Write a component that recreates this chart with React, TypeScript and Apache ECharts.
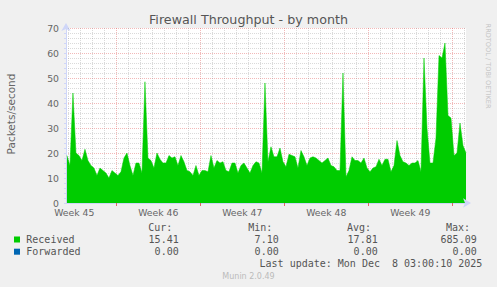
import React, { useEffect, useRef } from "react";
import * as echarts from "echarts";

// ---- data ----
const START_DAY = 0.08;
const STEP_DAYS = 0.25;
const AXIS_MAX_DAYS = 33.33;

const received = [
  19, 15, 44, 20, 19, 17, 21.5, 17, 15, 14,
  11, 14, 13, 12, 10, 13, 12, 11, 12.5, 18,
  20, 15, 11, 16, 16, 12, 48.5, 18, 17, 14,
  20, 17.5, 16, 16, 19, 18, 18.5, 15, 19, 16.5,
  13, 12.5, 11, 15, 11, 13, 13, 12.5, 19, 14,
  17, 16, 16.5, 13, 12.5, 16, 16, 12, 15, 16,
  14, 12, 15, 16.5, 16, 12, 48, 16.5, 22.5, 18.5,
  18.5, 22, 16.5, 14.5, 19.5, 19, 18.5, 14, 21, 18.5,
  15, 18, 18.5, 18, 17, 16, 17, 18, 15, 14.5,
  13, 13, 52, 10.5, 13, 18.5, 17, 17, 16, 18,
  14, 12.5, 14, 14.5, 17.5, 15, 17.5, 17.5, 12.5, 15,
  25, 19, 16.5, 16, 15, 16, 16, 17, 12.5, 58,
  30, 16, 16, 26, 59, 58, 64, 35, 34, 19,
  20, 32, 23, 20,
];

const weekLabels = ["Week 45", "Week 46", "Week 47", "Week 48", "Week 49"];
const weekStarts = [4.19, 11.19, 18.19, 25.19, 32.19];
const FIRST_MIDNIGHT = 0.19;

const title = "Firewall Throughput - by month";
const yAxisTitle = "Packets/second";
const sideText = "RRDTOOL / TOBI OETIKER";
const legendNames = ["Received", "Forwarded"];
const legendColors = ["#00cc00", "#0066b3"];
const statHeaders = ["Cur:", "Min:", "Avg:", "Max:"];
const receivedStats = ["15.41", "7.10", "17.81", "685.09"];
const forwardedStats = ["0.00", "0.00", "0.00", "0.00"];
const lastUpdate = "Last update: Mon Dec  8 03:00:10 2025";
const version = "Munin 2.0.49";

export default function App() {
  const ref = useRef<HTMLDivElement>(null);

  useEffect(() => {
    const chart = echarts.init(ref.current!, null, { renderer: "svg" });

    const data = received.map((v, i) => [START_DAY + i * STEP_DAYS, v]);
    const weekCenters = weekStarts.map((s) => s - 3.5);

    const dailyLines: number[] = [];
    for (let d = FIRST_MIDNIGHT; d < AXIS_MAX_DAYS; d += 1) {
      const dd = Math.round(d * 100) / 100;
      if (!weekStarts.some((w) => Math.abs(w - dd) < 0.01)) dailyLines.push(dd);
    }

    const minorGrid = "rgba(143,143,143,0.33)";
    const majorGrid = "rgba(222,79,79,0.4)";
    const axisColor = "#CFD6F8";
    const fontColor = "#666666";
    const sans = "DejaVu Sans";
    const mono = "DejaVu Sans Mono";

    const headerRight = [172.3, 272.3, 371, 470];
    const valueRight = [178.7, 278.7, 377.7, 476.7];
    const rowY = [239.5, 251.7];
    const rowStats = [receivedStats, forwardedStats];

    const txt = (text: string, x: number, y: number, size: number, family: string, color: string, align: string, extra: any = {}) => ({
      type: "text",
      x,
      y,
      silent: true,
      ...extra,
      style: {
        text,
        fontSize: size,
        fontFamily: family,
        fill: color,
        textAlign: align,
        align,
        textVerticalAlign: "middle",
        verticalAlign: "middle",
      },
    });

    const graphics: any[] = [
      txt(title, 248.5, 19, 12.7, sans, "#555555", "center"),
      txt(yAxisTitle, 10.5, 114, 10.5, sans, fontColor, "center", { rotation: Math.PI / 2 }),
      txt(sideText, 487.5, 66, 6.6, sans, "#c4c4c4", "center", { rotation: -Math.PI / 2 }),
    ];
    statHeaders.forEach((h, i) => graphics.push(txt(h, headerRight[i], 227.5, 10, mono, "#555555", "right")));
    legendNames.forEach((n, r) => {
      graphics.push({
        type: "rect",
        silent: true,
        shape: { x: 14, y: rowY[r] - 3, width: 6, height: 6 },
        style: { fill: legendColors[r] },
      });
      graphics.push(txt(n, 26.3, rowY[r], 10, mono, "#555555", "left"));
      rowStats[r].forEach((s, i) => graphics.push(txt(s, valueRight[i], rowY[r], 10, mono, "#555555", "right")));
    });
    graphics.push(txt(lastUpdate, 482.3, 263.5, 10, mono, "#555555", "right"));
    graphics.push(txt(version, 248.5, 276.3, 8, sans, "#bbbbbb", "center"));

    const option: any = {
      animation: false,
      backgroundColor: "#f0f0f0",
      grid: {
        left: 66,
        top: 28,
        right: 31,
        bottom: 84,
        show: true,
        backgroundColor: "#ffffff",
        borderWidth: 0,
        containLabel: false,
      },
      xAxis: {
        type: "value",
        min: 0,
        max: AXIS_MAX_DAYS,
        z: 3,
        axisLine: {
          show: true,
          lineStyle: { color: axisColor, width: 1 },
          symbol: ["none", "arrow"],
          symbolSize: [7, 8],
          symbolOffset: [0, 5],
        },
        axisTick: {
          show: true,
          customValues: weekStarts,
          length: 3,
          inside: false,
          lineStyle: { color: "rgba(222,79,79,0.85)" },
        },
        axisLabel: {
          customValues: weekCenters,
          formatter: (v: number) => {
            const idx = weekCenters.findIndex((c) => Math.abs(c - v) < 0.01);
            return idx >= 0 ? weekLabels[idx] : "";
          },
          color: fontColor,
          fontSize: 9.3,
          fontFamily: sans,
          margin: 5,
        },
        splitLine: { show: false },
      },
      yAxis: {
        type: "value",
        min: 0,
        max: 70,
        interval: 10,
        z: 0,
        axisLine: {
          show: true,
          lineStyle: { color: axisColor, width: 1 },
          symbol: ["none", "arrow"],
          symbolSize: [7, 8],
          symbolOffset: [0, 5],
        },
        axisTick: { show: true, length: 2, lineStyle: { color: axisColor } },
        minorTick: { show: true, splitNumber: 5, length: 2, lineStyle: { color: axisColor } },
        axisLabel: { color: fontColor, fontSize: 9.3, fontFamily: sans, margin: 7 },
        splitLine: {
          show: true,
          showMinLine: false,
          lineStyle: { color: majorGrid, type: [1, 1], width: 1 },
        },
        minorSplitLine: {
          show: true,
          lineStyle: { color: minorGrid, type: [1, 1], width: 1 },
        },
      },
      series: [
        {
          name: legendNames[0],
          type: "line",
          data,
          symbol: "none",
          showSymbol: false,
          silent: true,
          z: 2,
          lineStyle: { width: 0.5, color: legendColors[0] },
          areaStyle: { color: legendColors[0], opacity: 1 },
          markLine: {
            silent: true,
            symbol: ["none", "none"],
            label: { show: false },
            z: 1,
            data: [
              ...dailyLines.map((d) => ({
                xAxis: d,
                lineStyle: { color: minorGrid, type: [1, 1], width: 1 },
              })),
              ...weekStarts.map((d) => ({
                xAxis: d,
                lineStyle: { color: majorGrid, type: [1, 1], width: 1 },
              })),
            ],
          },
        },
      ],
      graphic: graphics,
    };

    chart.setOption(option);
    return () => chart.dispose();
  }, []);

  return (
    <div
      ref={ref}
      style={{ position: "absolute", left: 0, top: 0, width: 497, height: 287 }}
    />
  );
}
